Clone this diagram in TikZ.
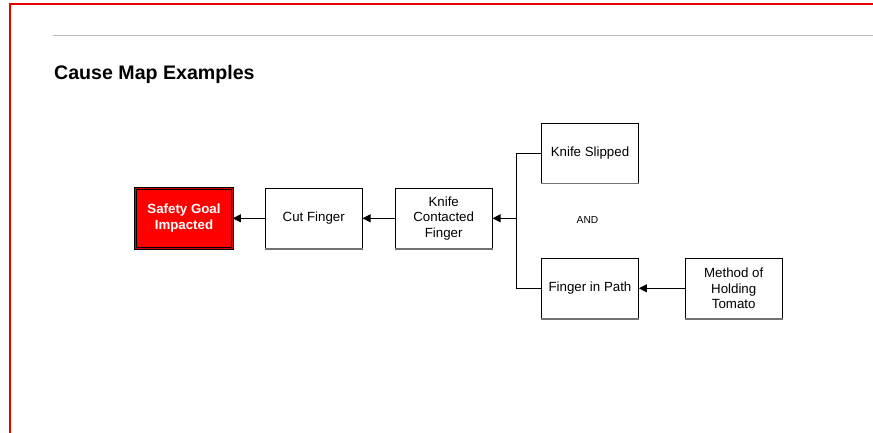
\documentclass[tikz,border=0pt]{standalone}
\usepackage{fontspec}
\setmainfont{Liberation Sans}
\usetikzlibrary{arrows.meta}
\begin{document}
\begin{tikzpicture}[x=1pt,y=-1pt,
  box/.style={draw=black, line width=0.8pt, fill=white, minimum width=97pt, minimum height=60pt, inner sep=0pt, align=center, font=\fontsize{13.3}{15.5}\selectfont},
  goal/.style={box, fill=red, draw=black, double=red!85!black, double distance=1pt, line width=0.7pt, text=white, font=\fontsize{13.3}{15.5}\selectfont\bfseries},
  link/.style={line width=0.8pt, -{Triangle[length=8pt,width=8pt]}},
  wire/.style={line width=0.8pt},
  shade/.style={black!55, line width=1.6pt}]
\useasboundingbox (0,0) rectangle (873,433);
\draw[red!90!black, line width=2pt] (10,434) -- (10,4) -- (874,4);
\draw[black!27, line width=1pt] (53,36) -- (873,36);
\node[anchor=base west, inner sep=0pt, font=\fontsize{19.6}{22}\selectfont\bfseries] (title) at (54,80) {Cause Map Examples};
\node[goal] (safety) at (184,218.3) {Safety Goal\\Impacted};
\node[box] (cut) at (313.7,218.3) {Cut Finger};
\node[box] (kcf) at (443.7,218.3) {Knife\\Contacted\\Finger};
\node[box] (ks) at (590,153) {Knife Slipped};
\node[box] (fip) at (590,288.3) {Finger in Path};
\node[box] (meth) at (733.7,288.3) {Method of\\Holding\\Tomato};
\foreach \n in {cut,kcf,ks,fip,meth}
  \draw[shade] (\n.south west) -- (\n.south east);
\node[font=\fontsize{10.2}{12}\selectfont] (and) at (587.5,220) {AND};
\coordinate (j) at (516.7,218.3);
\draw[link] (cut.west) -- (safety.east);
\draw[link] (kcf.west) -- (cut.east);
\draw[link] (j) -- (kcf.east);
\draw[wire] (ks.west) -| (j) |- (fip.west);
\draw[link] (meth.west) -- (fip.east);
\end{tikzpicture}
\end{document}
